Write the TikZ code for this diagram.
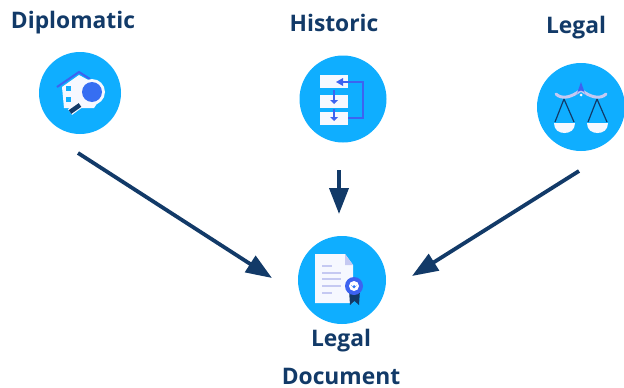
\documentclass[tikz,border=0pt]{standalone}
\usepackage{fontspec}
\setmainfont{Open Sans}
\usetikzlibrary{arrows.meta}
\definecolor{sky}{HTML}{0FAEFF}
\definecolor{navy}{HTML}{123A68}
\definecolor{royal}{HTML}{3D63F0}
\definecolor{pale}{HTML}{F6F8FF}
\definecolor{lilac}{HTML}{C5C9F2}
\tikzset{
  x=1pt,y=-1pt,
  disc/.style={circle,fill=sky,inner sep=0pt,minimum size=#1},
  lbl/.style={font=\bfseries\fontsize{22.8}{26}\selectfont,text=navy,inner sep=0pt},
  conn/.style={draw=navy,line width=3.8pt,-{Triangle[length=26pt,width=19pt]}},
  paper/.style={fill=pale,draw=none},
  blueline/.style={draw=royal,line width=2.3pt},
  rule/.style={draw=lilac,line width=1.2pt}
}
\begin{document}
\begin{tikzpicture}
\useasboundingbox (0,0) rectangle (624,388);
\fill[white] (0,0) rectangle (624,388);
% discs
\node[disc=82pt] (dip) at (80,93) {};
\node[disc=87pt] (his) at (343,99) {};
\node[disc=88pt] (leg) at (581,107) {};
\node[disc=88pt] (doc) at (342,280) {};
% labels
\node[lbl] (tdip) at (73,23) {Diplomatic};
\node[lbl] (this) at (334,23) {Historic};
\node[lbl] (tleg) at (576,28) {Legal};
\node[lbl] (tdoc1) at (341,341) {Legal};
\node[lbl] (tdoc2) at (341,376) {Document};
% connector ends
\coordinate (a1) at (78,153); \coordinate (a2) at (272,278);
\coordinate (b1) at (339,170); \coordinate (b2) at (339,214);
\coordinate (c1) at (579,171); \coordinate (c2) at (412,276);
\draw[conn] (a1) -- (a2);
\draw[conn] (b1) -- (b2);
\draw[conn] (c1) -- (c2);
% Diplomatic icon
\fill[paper] (62,87) -- (79,75) -- (92,82) -- (98,102) -- (94,108) -- (64,108) -- cycle;
\draw[royal,line width=2pt] (57,87) -- (79,72) -- (90,79);
\fill[sky] (66,86) rectangle (71,91);
\fill[sky] (66,97) rectangle (71,102);
\draw[pale,line width=7pt] (70,112) -- (81,104);
\draw[navy,line width=4.5pt] (70,112) -- (80,105);
\fill[pale] (92,92) circle (13);
\fill[royal!85!sky] (92,92) circle (10);
% Historic icon
\fill[paper] (320,75) rectangle (348,88);
\fill[paper] (320,95) rectangle (348,108);
\fill[paper] (320,112) rectangle (348,125);
\draw[blueline] (348,118) -- (363,118) -- (363,82) -- (342,82);
\fill[royal] (336,82) -- (343,78) -- (343,86) -- cycle;
\draw[royal,line width=1.6pt] (334,90) -- (334,100);
\fill[royal] (330,100) -- (338,100) -- (334,104) -- cycle;
\draw[royal,line width=1.6pt] (334,109) -- (334,117);
\fill[royal] (330,117) -- (338,117) -- (334,121) -- cycle;
% Legal icon
\draw[lilac,line width=3pt,line cap=round] (556,94) .. controls (562,100) and (572,97) .. (581,90) .. controls (590,97) and (600,100) .. (606,94);
\fill[royal] (581,82) -- (585.5,95) arc (0:-180:4.5) -- cycle;
\fill[pale] (581,95) circle (1.5);
\draw[navy,line width=1.2pt] (564,99) -- (555,122) (564,99) -- (574,122);
\draw[navy,line width=1.2pt] (597,99) -- (588,122) (597,99) -- (607,122);
\fill[pale] (554,123) -- (575,123) .. controls (575,130) and (570,133) .. (564.5,133) .. controls (559,133) and (554,130) .. (554,123) -- cycle;
\fill[pale] (587,123) -- (608,123) .. controls (608,130) and (603,133) .. (597.5,133) .. controls (592,133) and (587,130) .. (587,123) -- cycle;
% Document icon
\fill[paper] (315,254) -- (345,254) -- (353,265) -- (353,303) -- (315,303) -- cycle;
\fill[lilac] (345,254) -- (353,265) -- (345,265) -- cycle;
\foreach \y/\e in {266/332,273/341,279/341,286/341,293/332}{\draw[rule] (322,\y) -- (\e,\y);}
\fill[navy] (349,290) -- (360,290) -- (359,305) -- (354.5,301) -- (350,305) -- cycle;
\fill[royal] (354,286) circle (9);
\fill[white] (354,286) circle (5);
\fill[royal!70!sky] (354,288.5) -- (351,285) arc (180:0:1.5) arc (180:0:1.5) -- cycle;
\end{tikzpicture}
\end{document}
